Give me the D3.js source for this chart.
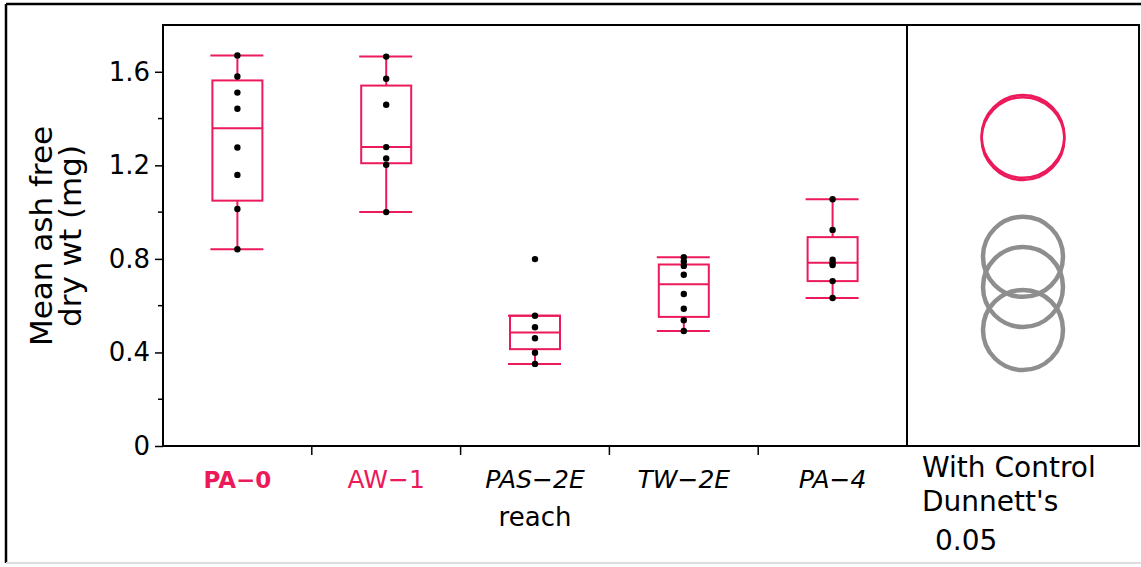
<!DOCTYPE html>
<html><head>
<meta charset="utf-8">
<script src="https://d3js.org/d3.v7.min.js"></script>
<style>
  body { margin: 0; background: #fff; }
  text { font-family: "DejaVu Sans", sans-serif; }
</style>
</head>
<body>
<svg id="chart" width="1141" height="567"></svg>
<script>
// groups along the x axis
const categories = ["PA−0", "AW−1", "PAS−2E", "TW−2E", "PA−4"];
const highlighted = [true, true, false, false, false];

// box plot stats
const whiskerLow  = [0.841, 1.000, 0.351, 0.492, 0.633];
const boxLow      = [1.049, 1.209, 0.414, 0.552, 0.705];
const boxMedian   = [1.359, 1.278, 0.485, 0.692, 0.784];
const boxHigh     = [1.563, 1.541, 0.557, 0.776, 0.893];
const whiskerHigh = [1.670, 1.665, 0.557, 0.807, 1.055];

// raw points
const ptsPA0   = [1.670, 1.580, 1.511, 1.442, 1.276, 1.159, 1.013, 0.841];
const ptsAW1   = [1.665, 1.570, 1.459, 1.278, 1.229, 1.202, 1.000];
const ptsPAS2E = [0.799, 0.557, 0.508, 0.461, 0.399, 0.351];
const ptsTW2E  = [0.807, 0.789, 0.770, 0.732, 0.650, 0.587, 0.538, 0.492];
const ptsPA4   = [1.055, 0.924, 0.796, 0.784, 0.774, 0.705, 0.633];
const points = [ptsPA0, ptsAW1, ptsPAS2E, ptsTW2E, ptsPA4];

// Dunnett comparison circles (center value, radius in y units)
const circleMean   = [1.324, 1.314, 0.809, 0.680, 0.496];
const circleRadius = [0.177, 0.177, 0.171, 0.171, 0.171];

const yTicks = [0, 0.4, 0.8, 1.2, 1.6];
const yMinor = [0.2, 0.6, 1.0, 1.4];

const red = "#ec1a5b";
const svg = d3.select("#chart");

const plotL = 163, plotR = 907, panelR = 1139, plotT = 25, plotB = 446;

const y = d3.scaleLinear().domain([0, 1.8]).range([plotB, plotT]);
const x = d3.scaleBand().domain(categories).range([plotL, plotR]);
const half = x.bandwidth() * 0.168;

// outer frame of the picture
svg.append("line").attr("x1", 6).attr("x2", 1141).attr("y1", 4).attr("y2", 4)
   .attr("stroke", "#000").attr("stroke-width", 2.5);
svg.append("line").attr("x1", 6).attr("x2", 6).attr("y1", 4).attr("y2", 563)
   .attr("stroke", "#000").attr("stroke-width", 2.5);
svg.append("line").attr("x1", 6).attr("x2", 1141).attr("y1", 563).attr("y2", 563)
   .attr("stroke", "#ddd").attr("stroke-width", 2);

// y axis
const yAxis = svg.append("g").attr("transform", `translate(${plotL},0)`)
  .call(d3.axisLeft(y).tickValues(yTicks).tickSize(8).tickPadding(5)
        .tickFormat(d => d === 0 ? "0" : d3.format(".1f")(d)));
yAxis.select(".domain").remove();
yAxis.selectAll("line").attr("stroke", "#000").attr("stroke-width", 1.5);
yAxis.selectAll("text").attr("font-size", 26).attr("fill", "#000")
  .style("font-family", "DejaVu Sans");
svg.append("g").selectAll("line").data(yMinor).join("line")
  .attr("x1", plotL - 5).attr("x2", plotL)
  .attr("y1", d => y(d)).attr("y2", d => y(d))
  .attr("stroke", "#000").attr("stroke-width", 1.5);

// frames
svg.append("rect").attr("x", plotL).attr("y", plotT)
  .attr("width", panelR - plotL).attr("height", plotB - plotT)
  .attr("fill", "none").attr("stroke", "#000").attr("stroke-width", 2);
svg.append("line").attr("x1", plotR).attr("x2", plotR).attr("y1", plotT).attr("y2", plotB)
  .attr("stroke", "#000").attr("stroke-width", 2);

// category divider ticks
svg.append("g").selectAll("line").data(categories.slice(1)).join("line")
  .attr("x1", d => x(d)).attr("x2", d => x(d))
  .attr("y1", plotB).attr("y2", plotB + 9)
  .attr("stroke", "#000").attr("stroke-width", 1.5);

// box plots
const boxes = svg.append("g").selectAll("g").data(categories).join("g")
  .attr("transform", d => `translate(${x(d) + x.bandwidth() / 2},0)`);
boxes.append("line")
  .attr("y1", (d, i) => y(whiskerLow[i])).attr("y2", (d, i) => y(whiskerHigh[i]))
  .attr("stroke", red).attr("stroke-width", 2);
boxes.append("rect")
  .attr("x", -half).attr("width", 2 * half)
  .attr("y", (d, i) => y(boxHigh[i]))
  .attr("height", (d, i) => y(boxLow[i]) - y(boxHigh[i]))
  .attr("fill", "#fff").attr("stroke", red).attr("stroke-width", 2);
boxes.append("line")
  .attr("x1", -half).attr("x2", half)
  .attr("y1", (d, i) => y(boxMedian[i])).attr("y2", (d, i) => y(boxMedian[i]))
  .attr("stroke", red).attr("stroke-width", 2);
[whiskerLow, whiskerHigh].forEach(arr => {
  boxes.append("line")
    .attr("x1", -half - 2).attr("x2", half + 1)
    .attr("y1", (d, i) => y(arr[i])).attr("y2", (d, i) => y(arr[i]))
    .attr("stroke", red).attr("stroke-width", 2);
});
boxes.selectAll("circle").data((d, i) => points[i]).join("circle")
  .attr("cx", 0).attr("cy", d => y(d)).attr("r", 3.2).attr("fill", "#000");

// category labels
svg.append("g").selectAll("text").data(categories).join("text")
  .attr("x", d => x(d) + x.bandwidth() / 2)
  .attr("y", 488)
  .attr("text-anchor", "middle")
  .attr("font-size", (d, i) => i === 0 ? 23 : 25)
  .attr("fill", (d, i) => highlighted[i] ? red : "#000")
  .attr("font-weight", (d, i) => i === 0 ? "bold" : "normal")
  .attr("font-style", (d, i) => highlighted[i] ? "normal" : "italic")
  .text(d => d);
svg.append("text").attr("x", x(categories[2]) + x.bandwidth() / 2).attr("y", 526)
  .attr("text-anchor", "middle").attr("font-size", 26).text("reach");

// y title
const title = svg.append("text").attr("transform", "translate(0,236) rotate(-90)")
  .attr("text-anchor", "middle").attr("font-size", 31);
title.append("tspan").attr("x", 0).attr("y", 52).text("Mean ash free");
title.append("tspan").attr("x", 0).attr("y", 81).text("dry wt (mg)");

// comparison circles
const cx = (plotR + panelR) / 2;
svg.append("g").selectAll("circle").data(circleMean).join("circle")
  .attr("cx", cx).attr("cy", d => y(d))
  .attr("r", (d, i) => y(0) - y(circleRadius[i]))
  .attr("fill", "none")
  .attr("stroke", (d, i) => i < 2 ? red : "#8e8e8e")
  .attr("stroke-width", (d, i) => i < 2 ? 2.5 : 4.5);

// panel caption
const cap = svg.append("text").attr("font-size", 28).attr("fill", "#000");
cap.append("tspan").attr("x", 922).attr("y", 477).text("With Control");
cap.append("tspan").attr("x", 922).attr("y", 511).text("Dunnett's");
cap.append("tspan").attr("x", 935).attr("y", 550).text("0.05");
</script>
</body>
</html>
